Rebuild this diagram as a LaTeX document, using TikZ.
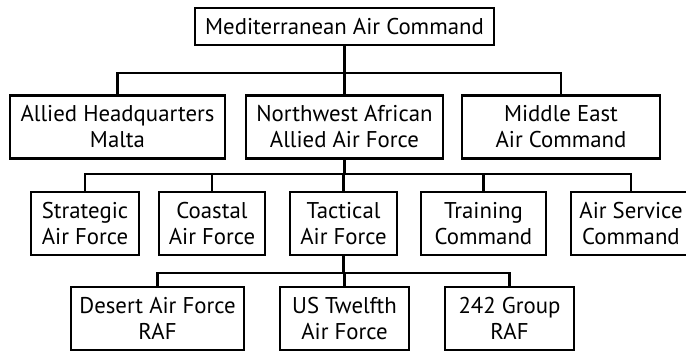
\documentclass[tikz,border=0pt]{standalone}
\usepackage{fontspec}
\setmainfont{PT Sans}
\usepackage{tikz}
\usetikzlibrary{calc}

\begin{document}
\begin{tikzpicture}[
    x=1pt, y=-1pt,
    font=\fontsize{22.8}{26}\selectfont,
    block_cmd/.style={
      rectangle,
      draw,
      line width=2.8pt,
      align=center,
      inner sep=0pt,
      minimum height=63pt
    },
    line/.style={draw, line width=2.8pt} % connector style
  ]
  \useasboundingbox (0,0) rectangle (686,352);

  % Nodes
  \node [block_cmd, minimum width=299pt, minimum height=37pt] (mac) at (344.5,26.5) {Mediterranean Air Command};

  \node [block_cmd, minimum width=215pt] (ahq) at (117.5,127) {Allied Headquarters\\Malta};
  \node [block_cmd, minimum width=197pt] (naaf) at (344.5,127) {Northwest African\\Allied Air Force};
  \node [block_cmd, minimum width=198pt] (meac) at (561,127) {Middle East\\Air Command};

  \node [block_cmd, minimum width=108pt] (saf) at (85,223.5) {Strategic\\Air Force};
  \node [block_cmd, minimum width=106pt] (caf) at (212,223.5) {Coastal\\Air Force};
  \node [block_cmd, minimum width=107pt] (taf) at (343.5,223.5) {Tactical\\Air Force};
  \node [block_cmd, minimum width=125pt] (trc) at (483.5,223.5) {Training\\Command};
  \node [block_cmd, minimum width=120pt] (asc) at (631,223.5) {Air Service\\Command};

  \node [block_cmd, minimum width=173pt] (daf) at (157.5,318.5) {Desert Air Force\\RAF};
  \node [block_cmd, minimum width=129pt] (ustaf) at (344.5,318.5) {US Twelfth\\Air Force};
  \node [block_cmd, minimum width=129pt] (grp) at (509.5,318.5) {242 Group\\RAF};

  \coordinate (bar1) at (0,73);
  \coordinate (bar2) at (0,174);
  \coordinate (bar3) at (0,273);

  % Arrows
  \draw[line] (mac.south) |- (ahq.north |- bar1) -- (ahq.north);
  \draw[line] (mac.south) |- (naaf.north |- bar1) -- (naaf.north);
  \draw[line] (mac.south) |- (meac.north |- bar1) -- (meac.north);

  \draw[line] (naaf.south) |- (saf.north |- bar2) -- (saf.north);
  \draw[line] (naaf.south) |- (caf.north |- bar2) -- (caf.north);
  \draw[line] (naaf.south) |- (taf.north |- bar2) -- (taf.north);
  \draw[line] (naaf.south) |- (trc.north |- bar2) -- (trc.north);
  \draw[line] (naaf.south) |- (asc.north |- bar2) -- (asc.north);

  \draw[line] (taf.south) |- (daf.north |- bar3) -- (daf.north);
  \draw[line] (taf.south) |- (ustaf.north |- bar3) -- (ustaf.north);
  \draw[line] (taf.south) |- (grp.north |- bar3) -- (grp.north);

\end{tikzpicture}
\end{document}
